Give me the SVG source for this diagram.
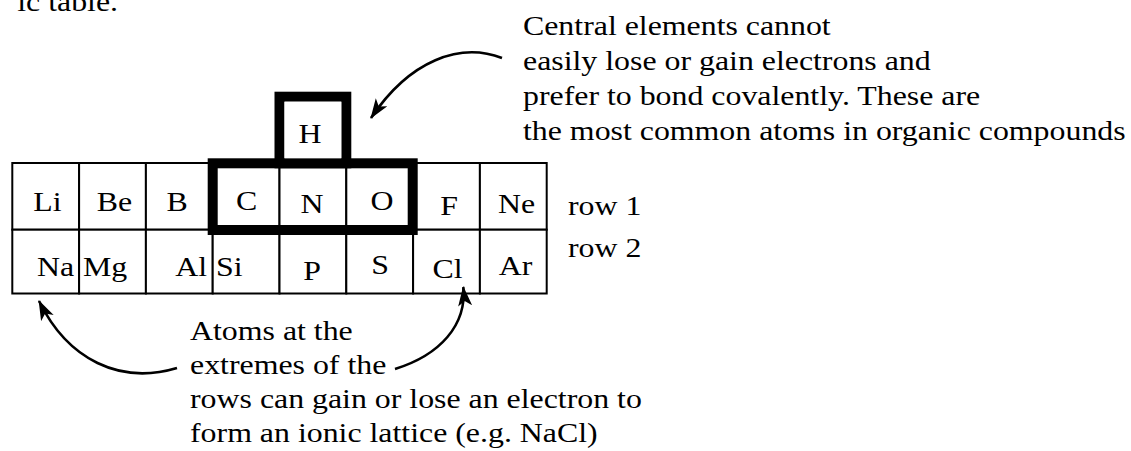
<svg xmlns="http://www.w3.org/2000/svg" width="1131" height="451" viewBox="0 0 1131 451">
<style>
.t{font-family:"Liberation Serif","Times New Roman",serif;font-size:27px;fill:#000}
.m{text-anchor:middle}
.e{text-anchor:end}
.cell{fill:#fff;stroke:#000;stroke-width:2}
.thick{fill:none;stroke:#000;stroke-width:10}
.arr{fill:none;stroke:#000;stroke-width:2.6;marker-end:url(#ah)}
</style>
<defs>
<marker id="ah" markerUnits="userSpaceOnUse" markerWidth="24" markerHeight="16" refX="19" refY="7" orient="auto">
<path d="M0,0 L20,7 L0,14 L5,7 Z" fill="#000"/>
</marker>
</defs>
<rect width="1131" height="451" fill="#fff"/>
<text class="t e" transform="translate(118,11) scale(1.18,1)">ic table.</text>

<g id="row1">
<g id="Li"><rect class="cell" x="12.3" y="163" width="66.8" height="66.7"/><text class="t m" transform="translate(47.5,211) scale(1.18,1)">Li</text></g>
<g id="Be"><rect class="cell" x="79.1" y="163" width="66.8" height="66.7"/><text class="t m" transform="translate(114.5,211) scale(1.18,1)">Be</text></g>
<g id="B"><rect class="cell" x="145.9" y="163" width="66.8" height="66.7"/><text class="t m" transform="translate(177,211) scale(1.18,1)">B</text></g>
<g id="C"><rect class="cell" x="212.7" y="163" width="66.8" height="66.7"/><text class="t m" transform="translate(246.5,210) scale(1.18,1)">C</text></g>
<g id="N"><rect class="cell" x="279.5" y="163" width="66.8" height="66.7"/><text class="t m" transform="translate(312,213) scale(1.18,1)">N</text></g>
<g id="O"><rect class="cell" x="346.3" y="163" width="66.8" height="66.7"/><text class="t m" transform="translate(382,210) scale(1.18,1)">O</text></g>
<g id="F"><rect class="cell" x="413.1" y="163" width="66.8" height="66.7"/><text class="t m" transform="translate(449,215) scale(1.18,1)">F</text></g>
<g id="Ne"><rect class="cell" x="479.9" y="163" width="66.8" height="66.7"/><text class="t m" transform="translate(516.5,213) scale(1.18,1)">Ne</text></g>
</g>

<g id="row2">
<g id="Na"><rect class="cell" x="12.3" y="229.7" width="66.8" height="63.8"/><text class="t m" transform="translate(55.5,276) scale(1.18,1)">Na</text></g>
<g id="Mg"><rect class="cell" x="79.1" y="229.7" width="66.8" height="63.8"/><text class="t" transform="translate(83,276) scale(1.18,1)">Mg</text></g>
<g id="Al"><rect class="cell" x="145.9" y="229.7" width="66.8" height="63.8"/><text class="t e" transform="translate(207,276) scale(1.18,1)">Al</text></g>
<g id="Si"><rect class="cell" x="212.7" y="229.7" width="66.8" height="63.8"/><text class="t" transform="translate(216,276) scale(1.18,1)">Si</text></g>
<g id="P"><rect class="cell" x="279.5" y="229.7" width="66.8" height="63.8"/><text class="t m" transform="translate(312,280) scale(1.18,1)">P</text></g>
<g id="S"><rect class="cell" x="346.3" y="229.7" width="66.8" height="63.8"/><text class="t m" transform="translate(380,274) scale(1.18,1)">S</text></g>
<g id="Cl"><rect class="cell" x="413.1" y="229.7" width="66.8" height="63.8"/><text class="t m" transform="translate(447.5,278) scale(1.18,1)">Cl</text></g>
<g id="Ar"><rect class="cell" x="479.9" y="229.7" width="66.8" height="63.8"/><text class="t m" transform="translate(515.5,275) scale(1.18,1)">Ar</text></g>
</g>

<g id="central-block">
<rect class="thick" x="212.7" y="163.3" width="200" height="66.7"/>
</g>
<g id="H">
<rect class="thick" x="279.5" y="96.7" width="66.8" height="66.6"/>
<rect x="284.5" y="101.7" width="56.8" height="56.6" fill="#fff"/>
<text class="t m" transform="translate(310,143) scale(1.18,1)">H</text>
</g>

<g id="row-labels">
<text class="t" transform="translate(568,215) scale(1.18,1)">row 1</text>
<text class="t" transform="translate(568,257) scale(1.18,1)">row 2</text>
</g>

<g id="note-central">
<text class="t" transform="translate(523,35) scale(1.18,1)">Central elements cannot</text>
<text class="t" transform="translate(523,70) scale(1.18,1)">easily lose or gain electrons and</text>
<text class="t" transform="translate(523,105) scale(1.18,1)">prefer to bond covalently.  These are</text>
<text class="t" transform="translate(523,140) scale(1.18,1)">the most common atoms in organic compounds</text>
</g>

<g id="note-extremes">
<text class="t" transform="translate(190,340) scale(1.18,1)">Atoms at the</text>
<text class="t" transform="translate(190,374) scale(1.18,1)">extremes of the</text>
<text class="t" transform="translate(190,408) scale(1.18,1)">rows can gain or lose an electron to</text>
<text class="t" transform="translate(190,442) scale(1.18,1)">form an ionic lattice (e.g. NaCl)</text>
</g>

<g id="connectors">
<path class="arr" d="M502,58 C460,42 410,60 371,118"/>
<path class="arr" d="M177,368 C120,385 68,360 39,301"/>
<path class="arr" d="M395,369 C440,355 467,325 463.3,287"/>
</g>
</svg>
